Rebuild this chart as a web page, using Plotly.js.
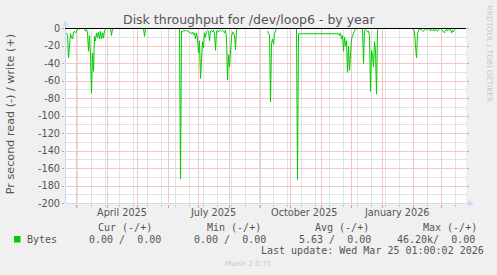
<!DOCTYPE html>
<html><head><meta charset="utf-8">
<script src="https://cdn.plot.ly/plotly-3.0.1.min.js"></script>
<style>html,body{margin:0;padding:0;background:#F0F0F0;}#chart{width:497px;height:275px;}
.scatterlayer .trace:not(:last-child) .js-line{shape-rendering:crispEdges;}</style>
</head><body><div id="chart"></div>
<script>
// ---- data (daily averages, read side is negative) ----
const readDates = [
 "2025-02-19","2025-02-20","2025-02-21","2025-02-22","2025-02-23","2025-02-24","2025-02-25","2025-02-26","2025-02-27","2025-02-28",
 "2025-03-01","2025-03-02","2025-03-03","2025-03-04","2025-03-05","2025-03-06","2025-03-07","2025-03-08","2025-03-09","2025-03-10",
 "2025-03-11","2025-03-12","2025-03-13","2025-03-14","2025-03-15","2025-03-16","2025-03-17","2025-03-18","2025-03-19","2025-03-20",
 "2025-03-21","2025-03-22","2025-03-23","2025-03-24","2025-03-25","2025-03-26","2025-03-27","2025-03-28","2025-03-29","2025-03-30","2025-03-31",
 "2025-04-02",
 "2025-04-04","2025-04-05","2025-04-06",
 "2025-04-20",
 "2025-05-07","2025-05-08","2025-05-09",
 "2025-05-20",
 "2025-06-12","2025-06-13","2025-06-14","2025-06-15","2025-06-16","2025-06-17","2025-06-18","2025-06-19","2025-06-20","2025-06-21",
 "2025-06-22","2025-06-23","2025-06-24","2025-06-25","2025-06-26","2025-06-27","2025-06-28","2025-06-29","2025-06-30",
 "2025-07-01","2025-07-02","2025-07-03","2025-07-04","2025-07-05","2025-07-06","2025-07-07","2025-07-08","2025-07-09","2025-07-10",
 "2025-07-11","2025-07-12","2025-07-13","2025-07-14","2025-07-15","2025-07-16","2025-07-17","2025-07-18","2025-07-19","2025-07-20",
 "2025-07-21","2025-07-22","2025-07-23","2025-07-24","2025-07-25","2025-07-26","2025-07-27","2025-07-28","2025-07-29","2025-07-30","2025-07-31",
 "2025-08-01","2025-08-02","2025-08-03","2025-08-04","2025-08-05","2025-08-06","2025-08-07","2025-08-08","2025-08-09",
 "2025-08-20",
 "2025-09-08","2025-09-09","2025-09-10","2025-09-11","2025-09-12","2025-09-13","2025-09-14","2025-09-15","2025-09-16","2025-09-17",
 "2025-09-25",
 "2025-10-07","2025-10-08","2025-10-09",
 "2025-11-18","2025-11-19","2025-11-20","2025-11-21","2025-11-22","2025-11-23","2025-11-24","2025-11-25","2025-11-26","2025-11-27",
 "2025-11-28","2025-11-29","2025-11-30","2025-12-01","2025-12-02","2025-12-03","2025-12-04","2025-12-05",
 "2025-12-08",
 "2025-12-12","2025-12-13","2025-12-14","2025-12-15","2025-12-16","2025-12-17","2025-12-18","2025-12-19","2025-12-20","2025-12-21",
 "2025-12-22","2025-12-23","2025-12-24","2025-12-25","2025-12-26","2025-12-27","2025-12-28",
 "2026-01-15",
 "2026-01-31","2026-02-01","2026-02-02","2026-02-03","2026-02-04","2026-02-05","2026-02-06","2026-02-07","2026-02-08","2026-02-09",
 "2026-02-10","2026-02-11","2026-02-12","2026-02-13","2026-02-14","2026-02-15","2026-02-16","2026-02-17","2026-02-18","2026-02-19",
 "2026-02-20","2026-02-21","2026-02-22","2026-02-23","2026-02-24","2026-02-25","2026-02-26","2026-02-27","2026-02-28",
 "2026-03-01","2026-03-02","2026-03-03","2026-03-04","2026-03-05","2026-03-06","2026-03-07","2026-03-08","2026-03-09","2026-03-10",
 "2026-03-11","2026-03-12","2026-03-13","2026-03-14"
];
const readValues = [
 -5,-8,-33.5,-12,-6,-10,-12,-4,-3,-5,
 -2,-1,0,-1,0,0,0,0,-1,-3,
 -1,-5,-26,-8,-30,-74,-28,-49,-9,-14,
 -5,-10,-4,-12,-3,-12,-5,-11,-2,-1,0,
 null,
 0,-8,0,
 null,
 0,-9,0,
 null,
 0,-172,-3,-4,-2,-3,-3,-2,-3,-4,
 -4,-5,-6,-4,-7,-5,-12,-5,-12,
 -28,-14,-57,-40,-15,-22,-5,-10,-3,-2,
 -3,-14,-3,-2,-4,-2,-6,-25,-3,-2,
 -4,-3,-2,-3,-2,-3,-5,-2,-10,-59,-30,
 -44,-20,-10,-4,-5,-8,-24,-2,0,
 null,
 -3,-5,-8,-84,-17,-12,-18,-6,-2,0,
 null,
 0,-173,-6,
 -6,-8,-5,-12,-8,-26,-10,-20,-14,-50,
 -20,-48,-28,-13,-8,-6,-3,0,
 null,
 0,-40,-2,-1,-2,-4,-3,-8,-72,-25,
 -30,-44,-15,-25,-75,-2,0,
 null,
 0,-1,-3,-20,-33.5,-6,-2,0,-1,-1,
 -3,-3,-2,0,-1,-1,0,-1,-3,-1,
 -2,-1,-3,-1,-2,-3,-1,0,0,
 -1,-2,-4,-5,-2,-1,-3,0,-1,-1,
 -5,-2,-4,-1
];
const xRange = ["2025-02-17 12:00", "2026-03-25 12:00"];
const yRange = [-200.57, 0.57];
const yTickValues = [0,-20,-40,-60,-80,-100,-120,-140,-160,-180,-200];
const yTickLabels = ["0","-20","-40","-60","-80","-100","-120","-140","-160","-180","-200"];
const xLabelDates = ["2025-04-15","2025-07-15","2025-10-15","2026-01-15"];
const xLabelTexts = ["April 2025","July 2025","October 2025","January 2026"];
const statHeaders = ["Cur (-/+)","Min (-/+)","Avg (-/+)","Max (-/+)"];
const statValues = ["0.00 /  0.00","0.00 /  0.00","5.63 /  0.00","46.20k/  0.00"];
const seriesName = "Bytes";
const titleText = "Disk throughput for /dev/loop6 - by year";
const yTitleText = "Pr second read (-) / write (+)";
const lastUpdate = "Last update: Wed Mar 25 01:00:02 2026";
const sideText = "RRDTOOL / TOBI OETIKER";
const versionText = "Munin 2.0.73";

// ---- grid positions (monthly major, two-weekly minor; 20 / 10 on y) ----
const gridMajorX = [];
for (let m = 2; m <= 14; m++) gridMajorX.push(new Date(Date.UTC(2025, m, 1)).toISOString().slice(0, 10));
const gridMinorX = [];
for (let t = Date.UTC(2025, 2, 2); t < Date.UTC(2026, 2, 25); t += 14 * 86400000) gridMinorX.push(new Date(t).toISOString().slice(0, 10));
const gridMinorY = [];
for (let v = -10; v > -200; v -= 20) gridMinorY.push(v);

// ---- layout helpers ----
const W = 497, H = 275;
const M = {l: 65, r: 31, t: 28, b: 71};
const PW = W - M.l - M.r, PH = H - M.t - M.b;
const px = x => (x - M.l) / PW;
const py = y => (H - M.b - y) / PH;
const nb = s => s.replace(/ /g, "\u00a0");
const MAJOR = "#EE9494", MINOR = "#C4C4C4", AXIS = "#CFD6F8", FONTC = "#555555";
const GRID_MAJOR = "#F3C6C6", GRID_MINOR = "#E2E2E2";
const SANS = "DejaVu Sans", MONO = "DejaVu Sans Mono";

function ann(text, x, y, o) {
  return Object.assign({text: nb(text), x: px(x), y: py(y), xref: "paper", yref: "paper",
    showarrow: false, xanchor: "left", yanchor: "middle", borderpad: 0, borderwidth: 0,
    font: {family: MONO, size: 10, color: FONTC}}, o || {});
}

const annotations = [];
annotations.push(ann(titleText, 248.5, 19.6, {xanchor: "center", font: {family: SANS, size: 12.5, color: FONTC}}));
annotations.push(ann(yTitleText, 10.2, 114, {xanchor: "center", textangle: -90, font: {family: SANS, size: 11.2, color: FONTC}}));
annotations.push(ann(sideText, 489, 53.5, {xanchor: "center", textangle: 90, font: {family: SANS, size: 7.5, color: "#C8C8C8"}}));
xLabelDates.forEach((d, i) => annotations.push({text: nb(xLabelTexts[i]), x: d, xref: "x", y: py(212.2), yref: "paper",
  showarrow: false, xanchor: "center", yanchor: "middle", borderpad: 0, borderwidth: 0,
  font: {family: SANS, size: 9.7, color: FONTC}}));
const headerX = [98.3, 206.7, 315, 422.7];
const valueX = [89.3, 194.3, 299.3, 397.3];
statHeaders.forEach((h, i) => annotations.push(ann(h, headerX[i], 227.5)));
annotations.push(ann(seriesName, 26.7, 239.2));
statValues.forEach((v, i) => annotations.push(ann(v, valueX[i], 239.2)));
annotations.push(ann(lastUpdate, 260.7, 250.5));
annotations.push(ann(versionText, 248, 263.6, {xanchor: "center", font: {family: SANS, size: 7, color: "#C8C8C8"}}));

const shapes = [
  // y axis line + arrow
  {type: "line", xref: "paper", yref: "paper", x0: px(65.5), x1: px(65.5), y0: py(204), y1: py(24), line: {color: AXIS, width: 1}, layer: "above"},
  {type: "path", xref: "paper", yref: "paper", path: `M${px(65.5)},${py(20.5)} L${px(62.5)},${py(26.5)} L${px(68.5)},${py(26.5)} Z`, fillcolor: AXIS, line: {width: 0}, layer: "above"},
  // x axis line + arrow
  {type: "line", xref: "paper", yref: "paper", x0: px(65), x1: px(470), y0: py(203.5), y1: py(203.5), line: {color: AXIS, width: 1}, layer: "above"},
  {type: "path", xref: "paper", yref: "paper", path: `M${px(474)},${py(203.5)} L${px(468)},${py(200.5)} L${px(468)},${py(206.5)} Z`, fillcolor: AXIS, line: {width: 0}, layer: "above"},
  // zero rule
  {type: "line", xref: "paper", yref: "y", x0: 0, x1: 1, y0: 0, y1: 0, line: {color: "#000000", width: 1}, layer: "above"},
  // legend swatch
  {type: "rect", xref: "paper", yref: "paper", x0: px(14), x1: px(20.5), y0: py(242.5), y1: py(236), fillcolor: "#00CC00", line: {width: 0}, layer: "above"}
];

// grid drawn as thin line traces placed through the axes
function gridTrace(xs, ys, color) {
  return {x: xs, y: ys, type: "scatter", mode: "lines", hoverinfo: "skip", showlegend: false,
    connectgaps: false, line: {color: color, width: 1}};
}
function vGrid(dates, color) {
  const xs = [], ys = [];
  dates.forEach(d => { xs.push(d, d, null); ys.push(yRange[0], yRange[1], null); });
  return gridTrace(xs, ys, color);
}
function hGrid(vals, color) {
  const xs = [], ys = [];
  vals.forEach(v => { xs.push(xRange[0], xRange[1], null); ys.push(v, v, null); });
  return gridTrace(xs, ys, color);
}

const data = [
  vGrid(gridMinorX, GRID_MINOR), hGrid(gridMinorY, GRID_MINOR),
  vGrid(gridMajorX, GRID_MAJOR), hGrid(yTickValues, GRID_MAJOR),
  {x: readDates, y: readValues, type: "scatter", mode: "lines", name: seriesName,
   line: {color: "#00CC00", width: 1}, connectgaps: false, hoverinfo: "skip", showlegend: false}
];

const layout = {
  width: W, height: H, margin: {l: M.l, r: M.r, t: M.t, b: M.b, pad: 0},
  paper_bgcolor: "#F0F0F0", plot_bgcolor: "#FFFFFF", showlegend: false,
  font: {family: SANS, size: 10, color: FONTC},
  xaxis: {type: "date", range: xRange, autorange: false, tickmode: "linear", tick0: "2025-03-01", dtick: "M1",
    showticklabels: false, showgrid: false, ticks: "outside", ticklen: 3, tickcolor: MAJOR,
    showline: false, zeroline: false, fixedrange: true,
    minor: {tickmode: "linear", tick0: "2025-03-16", dtick: 14 * 86400000, showgrid: false,
      ticks: "outside", ticklen: 2, tickcolor: MINOR}},
  yaxis: {range: yRange, autorange: false, tickmode: "array", tickvals: yTickValues, ticktext: yTickLabels,
    showgrid: false, ticks: "outside", ticklen: 2, tickcolor: MAJOR, mirror: "ticks",
    showline: false, zeroline: false, fixedrange: true,
    tickfont: {family: SANS, size: 9.7, color: FONTC}},
  shapes: shapes, annotations: annotations
};
Plotly.newPlot("chart", data, layout, {staticPlot: true, displayModeBar: false});
</script></body></html>
